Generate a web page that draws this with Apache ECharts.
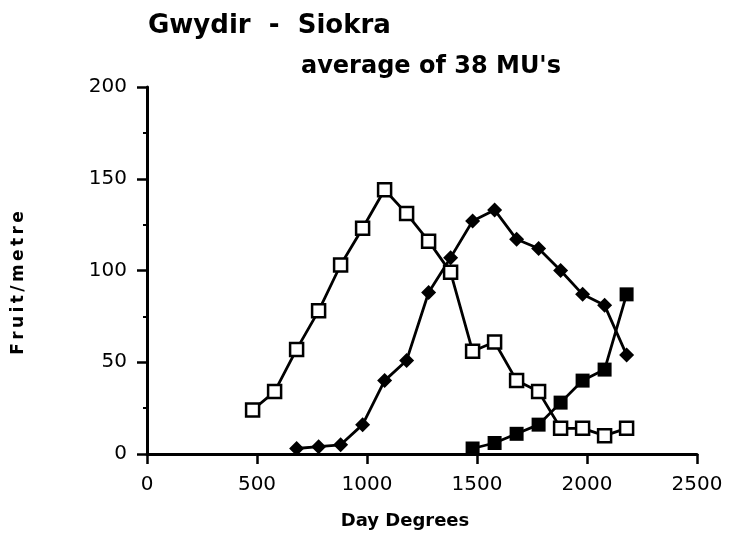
<!DOCTYPE html>
<html lang="en">
<head>
    <meta charset="UTF-8">
    <title>Gwydir - Siokra</title>
    <script src="https://cdn.jsdelivr.net/npm/echarts@6/dist/echarts.min.js"></script>
</head>
<body style="margin:0;background:#fff;">
<div id="main" style="width:729px;height:539px;"></div>
<script type="text/javascript">
    // open squares
    const openSquare = [[480, 24], [580, 34], [680, 57], [780, 78], [880, 103], [980, 123], [1080, 144],
        [1180, 131], [1280, 116], [1380, 99], [1480, 56], [1580, 61], [1680, 40], [1780, 34],
        [1880, 14], [1980, 14], [2080, 10], [2180, 14]];
    // filled diamonds
    const diamond = [[680, 3], [780, 4], [880, 5], [980, 16], [1080, 40], [1180, 51], [1280, 88],
        [1380, 107], [1480, 127], [1580, 133], [1680, 117], [1780, 112], [1880, 100], [1980, 87],
        [2080, 81], [2180, 54]];
    // filled squares
    const filledSquare = [[1480, 3], [1580, 6], [1680, 11], [1780, 16], [1880, 28], [1980, 40],
        [2080, 46], [2180, 87]];

    const font = 'DejaVu Sans, sans-serif';
    const myChart = echarts.init(document.getElementById('main'));

    const lineSeries = (data, symbol, fill, size) => ({
        type: 'line',
        data: data,
        symbol: symbol,
        symbolSize: size,
        lineStyle: {color: '#000', width: 2.8},
        itemStyle: {color: fill, borderColor: '#000', borderWidth: fill === '#fff' ? 2.5 : 0},
        z: 3
    });

    myChart.setOption({
        backgroundColor: '#fff',
        animation: false,
        title: [{
            text: 'Gwydir  -  Siokra',
            left: 143, top: 8,
            textStyle: {fontFamily: font, fontSize: 26, fontWeight: 'bold', color: '#000'}
        }, {
            text: "average of 38 MU's",
            left: 296, top: 50,
            textStyle: {fontFamily: font, fontSize: 24, fontWeight: 'bold', color: '#000'}
        }],
        grid: {left: 147, right: 32, top: 87, bottom: 85},
        xAxis: {
            type: 'value', min: 0, max: 2500, interval: 500,
            name: 'Day Degrees', nameLocation: 'middle', nameGap: 58,
            nameTextStyle: {fontFamily: font, fontSize: 18, fontWeight: 'bold', color: '#000',
                padding: [0, 34, 0, 0]},
            axisLine: {lineStyle: {color: '#000', width: 3}},
            axisTick: {show: true, length: 10, lineStyle: {color: '#000', width: 2.5}},
            axisLabel: {fontFamily: font, fontSize: 20, color: '#000', margin: 21,
                formatter: v => String(v)},
            splitLine: {show: false}
        },
        yAxis: {
            type: 'value', min: 0, max: 200, interval: 50,
            name: 'F\u2009r\u2009u\u2009i\u2009t\u2009/\u2009m\u2009e\u2009t\u2009r\u2009e',
            nameLocation: 'middle', nameGap: 120,
            nameTextStyle: {fontFamily: font, fontSize: 17, fontWeight: 'bold', color: '#000',
                padding: [0, 25, 0, 0]},
            axisLine: {show: true, lineStyle: {color: '#000', width: 3}},
            axisTick: {show: true, length: 10, lineStyle: {color: '#000', width: 2.5}},
            minorTick: {show: true, splitNumber: 2, length: 4, lineStyle: {color: '#000', width: 2}},
            axisLabel: {fontFamily: font, fontSize: 20, color: '#000', margin: 20},
            splitLine: {show: false}
        },
        series: [
            lineSeries(openSquare, 'rect', '#fff', 13),
            lineSeries(diamond, 'diamond', '#000', 15),
            lineSeries(filledSquare, 'rect', '#000', 14)
        ]
    });
</script>
</body>
</html>
